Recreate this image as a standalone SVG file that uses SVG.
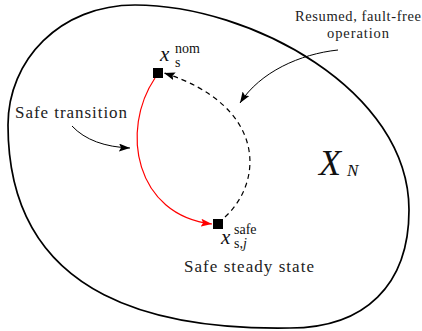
<svg xmlns="http://www.w3.org/2000/svg" width="422" height="331" viewBox="0 0 422 331">
<style>
  .txt { fill: #222; }
  .math { font-style: italic; fill: #111; }
  .sub { fill: #111; }
  .blob { fill: none; stroke: #000; stroke-width: 1.7; }
  .red { fill: none; stroke: #f00; stroke-width: 1.2; }
  .dash { fill: none; stroke: #000; stroke-width: 1.2; stroke-dasharray: 5 4; }
  .thin { fill: none; stroke: #000; stroke-width: 1; }
</style>
<defs>
  <marker id="ahBlack" markerUnits="userSpaceOnUse" markerWidth="12" markerHeight="9" refX="11" refY="4" orient="auto" viewBox="0 0 12 9">
    <path d="M0,0 L11,4 L0,8 L2,4 z" fill="#000"/>
  </marker>
  <marker id="ahRed" markerUnits="userSpaceOnUse" markerWidth="12" markerHeight="9" refX="11" refY="4" orient="auto" viewBox="0 0 12 9">
    <path d="M0,0 L11,4 L0,8 L2,4 z" fill="#f00"/>
  </marker>
</defs>

<g id="region">
  <path class="blob" d="M135,5 C250,5 409,90 409,210 C409,285 365,328 290,328 C170,330 8,305 8,125 C8,60 60,5 135,5 Z"/>
  <text class="math" font-family="Liberation Serif, serif" x="319" y="175" font-size="36">X</text>
  <text class="math" font-family="Liberation Serif, serif" x="347" y="176" font-size="17">N</text>
</g>

<g id="connectors">
  <path class="red" d="M155,78 C120,130 135,215 212,224" marker-end="url(#ahRed)"/>
  <path class="dash" d="M225,217 C265,180 265,105 164,73" marker-end="url(#ahBlack)"/>
  <path class="thin" d="M72,126 C85,140 105,147 130,148" marker-end="url(#ahBlack)"/>
  <path class="thin" d="M338,50 C300,54 260,72 240,103" marker-end="url(#ahBlack)"/>
</g>

<g id="node-nom">
  <rect x="153" y="68" width="10" height="10" fill="#000"/>
  <text class="math" font-family="Liberation Serif, serif" x="160" y="61" font-size="21">x</text>
  <text class="sub" font-family="Liberation Serif, serif" x="175" y="53" font-size="14">nom</text>
  <text class="sub" font-family="Liberation Serif, serif" x="175" y="67" font-size="14">s</text>
</g>

<g id="node-safe">
  <rect x="213" y="219" width="10" height="10" fill="#000"/>
  <text class="math" font-family="Liberation Serif, serif" x="221" y="244" font-size="21">x</text>
  <text class="sub" font-family="Liberation Serif, serif" x="234" y="234" font-size="14">safe</text>
  <text class="sub" font-family="Liberation Serif, serif" x="234" y="248" font-size="14">s,<tspan font-style="italic">j</tspan></text>
  <text class="txt" font-family="Liberation Serif, serif" x="249" y="272" font-size="17" text-anchor="middle" textLength="130" lengthAdjust="spacing">Safe steady state</text>
</g>

<g id="label-transition">
  <text class="txt" font-family="Liberation Serif, serif" x="15" y="118" font-size="17" textLength="112" lengthAdjust="spacing">Safe transition</text>
</g>

<g id="label-resumed">
  <text class="txt" font-family="Liberation Serif, serif" x="358" y="21" font-size="14.5" text-anchor="middle" textLength="126" lengthAdjust="spacing">Resumed, fault-free</text>
  <text class="txt" font-family="Liberation Serif, serif" x="358" y="38" font-size="14.5" text-anchor="middle" textLength="62" lengthAdjust="spacing">operation</text>
</g>
</svg>
